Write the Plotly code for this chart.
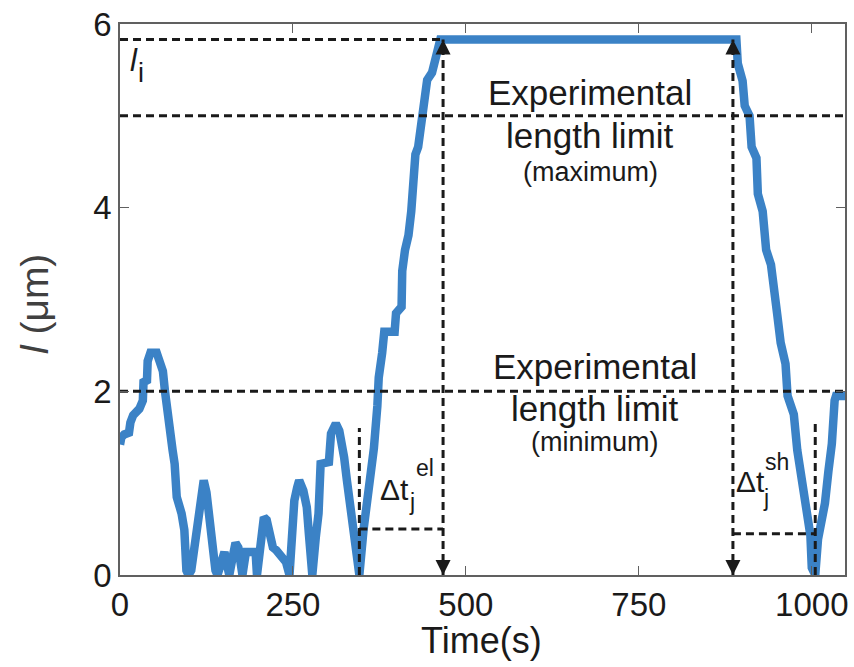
import plotly.graph_objects as go

# Filament length trace: time (s) and length l (µm)
time_s = [0, 2, 6, 13, 15, 19, 28, 33, 34, 39, 40, 44, 53, 58, 62, 65, 68, 72, 76, 79,
          82, 89, 93, 96, 99, 103, 108, 111, 115, 119, 121, 125, 127, 130, 134, 138, 141,
          146, 151, 155, 158, 163, 167, 171, 174, 177, 182, 196, 198, 201, 204, 208, 212,
          216, 221, 226, 233, 240, 245, 249, 252, 256, 259, 265, 270, 273, 278, 283, 287,
          290, 302, 305, 312, 317, 320, 324, 328, 332, 336, 341, 346,
          352, 359, 367, 372, 374, 379, 382, 397, 399, 407, 408, 412, 417, 421, 424, 427,
          431, 436, 439, 444, 451, 456, 461, 463,
          891, 893, 900, 903, 910, 913, 920, 922, 929, 934, 941, 946, 950, 955, 962, 965,
          974, 979, 986, 993, 998, 1000, 1005, 1009, 1019, 1024, 1029, 1033, 1035, 1048]
length_um = [1.42, 1.5, 1.53, 1.55, 1.66, 1.74, 1.81, 1.9, 2.1, 2.12, 2.33, 2.42, 2.42, 2.3,
             2.22, 2.0, 1.76, 1.5, 1.36, 1.21, 0.85, 0.67, 0.49, 0.05, 0.0, 0.05, 0.3, 0.55,
             0.63, 0.95, 1.03, 0.9, 0.74, 0.5, 0.35, 0.05, 0.0, 0.15, 0.25, 0.1, 0.0, 0.2,
             0.35, 0.3, 0.2, 0.0, 0.25, 0.25, 0.0, 0.25, 0.52, 0.63, 0.6, 0.45, 0.3, 0.27,
             0.2, 0.14, 0.0, 0.6, 0.81, 0.95, 1.03, 0.92, 0.74, 0.45, 0.0, 0.41, 0.67, 1.21,
             1.23, 1.54, 1.65, 1.57, 1.48, 1.28, 1.03, 0.8, 0.55, 0.3, 0.0,
             0.49, 0.88, 1.38, 1.84, 2.15, 2.42, 2.65, 2.65, 2.85, 2.92, 3.31, 3.54, 3.7,
             3.96, 4.31, 4.58, 4.66, 5.01, 5.24, 5.39, 5.47, 5.62, 5.78, 5.83,
             5.83, 5.57, 5.38, 5.11, 5.0, 4.66, 4.54, 4.15, 3.96, 3.54, 3.38, 3.15, 2.84,
             2.53, 2.3, 1.95, 1.75, 1.36, 1.05, 0.74, 0.43, 0.08, 0.0, 0.39, 0.78, 1.13,
             1.43, 1.9, 1.95, 1.95]

# Reference levels
l_initial = 5.83
limit_max = 5.0
limit_min = 2.0
x_max = 1048

# Event times
t_grow_start = 346
t_grow_end = 467
t_shrink_start = 886
t_shrink_end = 1005
el_level = 0.5
sh_level = 0.45
el_top = 1.6
sh_top = 1.7

x_ticks = [0, 250, 500, 750, 1000]
y_ticks = [0, 2, 4, 6]

FONT = "Liberation Sans, Arial, sans-serif"
BLUE = "#3b82c6"
INK = "#1a1a1a"
DASH = "8px,5px"

fig = go.Figure()

fig.add_trace(go.Scatter(x=time_s, y=length_um, mode="lines",
                         line=dict(color=BLUE, width=8.5), hoverinfo="skip"))


def dashed(xs, ys):
    fig.add_trace(go.Scatter(x=xs, y=ys, mode="lines",
                             line=dict(color=INK, width=3, dash=DASH),
                             hoverinfo="skip"))


dashed([0, t_grow_end], [l_initial, l_initial])
dashed([0, x_max], [limit_max, limit_max])
dashed([0, x_max], [limit_min, limit_min])
dashed([t_grow_end, t_grow_end], [0, l_initial])
dashed([t_shrink_start, t_shrink_start], [0, l_initial])
dashed([t_grow_start, t_grow_start], [0, el_top])
dashed([t_grow_start, t_grow_end], [el_level, el_level])
dashed([t_shrink_end, t_shrink_end], [0, sh_top])
dashed([t_shrink_start, t_shrink_end], [sh_level, sh_level])

annotations = []

# Arrow heads at both ends of the two vertical markers
for xa in (t_grow_end, t_shrink_start):
    annotations.append(dict(x=xa, y=l_initial, ax=xa, ay=l_initial - 0.12,
                            xref="x", yref="y", axref="x", ayref="y",
                            showarrow=True, arrowhead=2, arrowsize=1.5,
                            arrowwidth=2, arrowcolor=INK, text=""))
    annotations.append(dict(x=xa, y=0, ax=xa, ay=0.12,
                            xref="x", yref="y", axref="x", ayref="y",
                            showarrow=True, arrowhead=2, arrowsize=1.5,
                            arrowwidth=2, arrowcolor=INK, text=""))


def label(x, y, text, size, xanchor="center", color=INK):
    annotations.append(dict(x=x, y=y, xref="x", yref="y", text=text,
                            showarrow=False, xanchor=xanchor, yanchor="middle",
                            font=dict(family=FONT, size=size, color=color)))


label(680, 5.25, "Experimental", 35)
label(680, 4.79, "length limit", 35)
label(680, 4.39, "(maximum)", 27)
label(686, 2.27, "Experimental", 35)
label(686, 1.81, "length limit", 35)
label(686, 1.45, "(minimum)", 27)

label(20, 5.6, "<i>l</i>", 31)
label(31, 5.47, "i", 27)

label(397, 0.93, "\u0394t", 30)
label(441, 1.17, "el", 23)
label(422, 0.80, "j", 23)
label(911, 1.02, "\u0394t", 30)
label(950, 1.23, "sh", 23)
label(934, 0.84, "j", 23)

# Axis titles
annotations.append(dict(x=0.499, y=-0.119, xref="paper", yref="paper",
                        xanchor="center", yanchor="middle",
                        text="Time(s)", showarrow=False,
                        font=dict(family=FONT, size=36, color=INK)))
annotations.append(dict(x=-0.117, y=0.492, xref="paper", yref="paper",
                        xanchor="center", yanchor="middle",
                        text="<i>l</i> (\u03bcm)", showarrow=False, textangle=-90,
                        font=dict(family=FONT, size=39, color="#404040")))

axis_common = dict(showgrid=False, zeroline=False, showline=True, linecolor="#606060",
                   linewidth=1.6, mirror="ticks", ticks="inside", ticklen=9,
                   tickwidth=1.3, tickcolor="#606060",
                   tickfont=dict(family=FONT, size=33, color=INK))

fig.update_layout(
    width=854, height=667,
    margin=dict(l=120, r=6, t=22, b=92),
    paper_bgcolor="white", plot_bgcolor="white",
    showlegend=False,
    xaxis=dict(range=[0, x_max], tickvals=x_ticks,
               ticktext=[str(v) for v in x_ticks], **axis_common),
    yaxis=dict(range=[0, 6], tickvals=y_ticks,
               ticktext=[str(v) for v in y_ticks], **axis_common),
    annotations=annotations,
)

fig.write_html("out.html")
